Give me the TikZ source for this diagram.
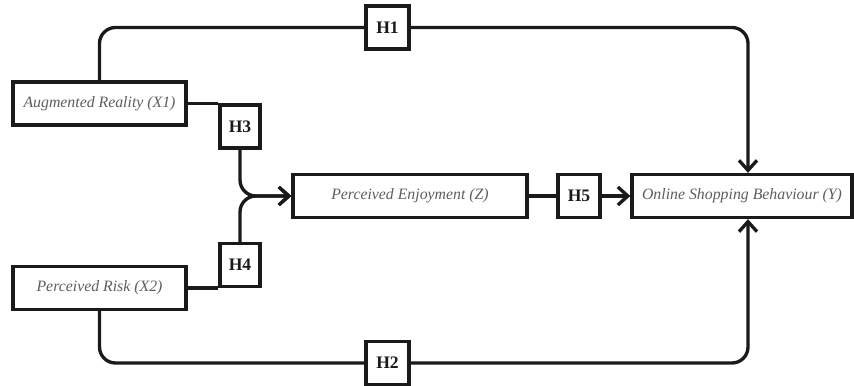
\documentclass[tikz,border=0pt]{standalone}
\usepackage{fontspec}
\setmainfont{Liberation Serif}
\usetikzlibrary{arrows.meta,positioning}
\definecolor{ink}{HTML}{1A1A1A}
\definecolor{muted}{HTML}{5E5E5E}
\tikzset{
  var/.style={draw=ink, line width=1.9pt, fill=white, minimum height=8.6mm, inner sep=0pt, font=\fontsize{9}{10}\selectfont\itshape, text=muted},
  hyp/.style={draw=ink, line width=1.9pt, fill=white, minimum width=8mm, minimum height=8.6mm, inner sep=0pt, font=\fontsize{10}{11}\selectfont\bfseries, text=ink},
  link/.style={draw=ink, line width=1.9pt, rounded corners=3.2mm},
  tip/.style={-{Straight Barb[length=2mm,width=3.6mm]}},
}

\begin{document}
\begin{tikzpicture}
  \useasboundingbox (0,0) rectangle (17.08,7.7);
  % variables
  \node[var,minimum width=34.6mm] (AR) at (1.99,5.63) {Augmented Reality (X1)};
  \node[var,minimum width=34.6mm] (PR) at (1.99,1.94) {Perceived Risk (X2)};
  \node[var,minimum width=46.8mm] (PE) at (8.2,3.78) {Perceived Enjoyment (Z)};
  \node[var,minimum width=44mm] (OSB) at (14.84,3.78) {Online Shopping Behaviour (Y)};
  % hypotheses
  \node[hyp] (H3) at (4.8,5.17) {H3};
  \node[hyp] (H4) at (4.8,2.4) {H4};
  \node[hyp,minimum width=8.4mm] (H5) at (11.58,3.78) {H5};
  \node[hyp,minimum width=8.6mm] (H1) at (7.75,7.15) {H1};
  \node[hyp,minimum width=8.6mm] (H2) at (7.75,0.44) {H2};
  % paths
  \draw[link] (AR.north) |- (H1.west);
  \draw[link,tip] (H1.east) -| ([xshift=1.2mm]OSB.north);
  \draw[link] (PR.south) |- (H2.west);
  \draw[link,tip] (H2.east) -| ([xshift=1.2mm]OSB.south);
  \draw[link] (AR.east) -- (AR.east -| H3.west);
  \draw[link] (PR.east) -- (PR.east -| H4.west);
  \draw[link,tip] (H3.south) |- (PE.west);
  \draw[link,tip] (H4.north) |- (PE.west);
  \draw[link] (PE.east) -- (H5.west);
  \draw[link,tip] (H5.east) -- (OSB.west);
\end{tikzpicture}
\end{document}
